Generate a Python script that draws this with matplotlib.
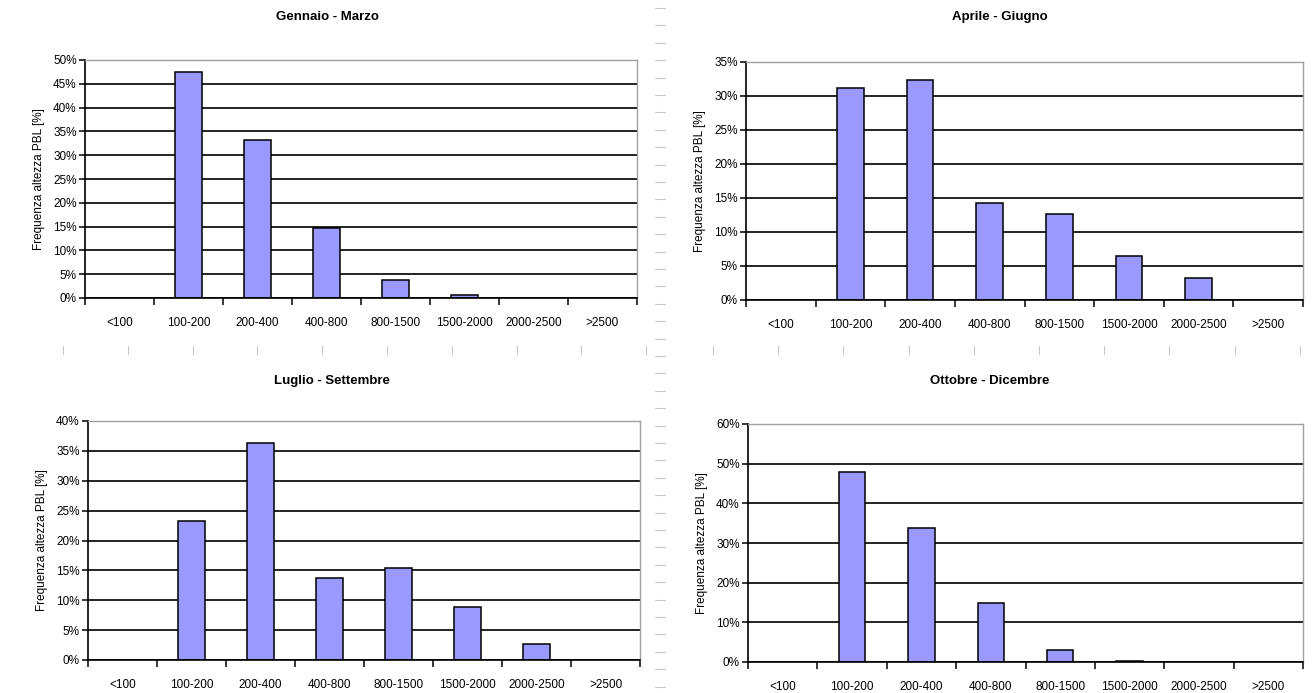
import matplotlib
matplotlib.use("Agg")
import matplotlib.pyplot as plt
from matplotlib.lines import Line2D
from matplotlib.ticker import FuncFormatter, MultipleLocator
import numpy as np

plt.rcParams['font.family'] = ['Liberation Sans', 'DejaVu Sans']

categories = ["<100", "100-200", "200-400", "400-800", "800-1500",
              "1500-2000", "2000-2500", ">2500"]

titles = ["Gennaio - Marzo", "Aprile - Giugno",
          "Luglio - Settembre", "Ottobre - Dicembre"]

gen_mar = [0.0, 47.5, 33.2, 14.8, 3.8, 0.7, 0.0, 0.0]
apr_giu = [0.0, 31.2, 32.3, 14.2, 12.7, 6.5, 3.2, 0.0]
lug_set = [0.0, 23.2, 36.4, 13.7, 15.4, 8.8, 2.7, 0.0]
ott_dic = [0.0, 47.8, 33.7, 15.0, 3.0, 0.3, 0.0, 0.0]

y_max = [50, 35, 40, 60]
y_step = [5, 5, 5, 10]

ylabel = "Frequenza altezza PBL [%]"

W, H = 1315, 693
fig = plt.figure(figsize=(W / 100, H / 100), dpi=100)
fig.patch.set_facecolor("white")

# plot areas in pixel coordinates: left, top, right, bottom
boxes = [(85, 60, 637, 298), (746, 62, 1303, 300),
         (88, 421, 640, 660), (748, 424, 1303, 662)]
title_pos = [(327, 17), (1000, 17), (332, 381), (990, 381)]

series = [gen_mar, apr_giu, lug_set, ott_dic]

# faint sheet-cell separators behind the charts
for yy in np.arange(8, H, 17.4):
    fig.add_artist(Line2D([655 / W, 665 / W], [1 - yy / H, 1 - yy / H],
                          color="#c8c8c8", lw=0.8))
for xx in list(np.arange(63, 650, 64.8)) + list(np.arange(713, 1310, 65.2)):
    fig.add_artist(Line2D([xx / W, xx / W], [1 - 346 / H, 1 - 354 / H],
                          color="#c8c8c8", lw=0.8))

x = np.arange(len(categories))
for i, (vals, box) in enumerate(zip(series, boxes)):
    l, t, r, b = box
    ax = fig.add_axes([l / W, 1 - b / H, (r - l) / W, (b - t) / H])
    edges = ["black" if v > 0 else "none" for v in vals]
    ax.bar(x, vals, width=0.38, color="#9999FF", edgecolor=edges,
           linewidth=1.1, zorder=3)
    ax.set_xlim(-0.5, len(categories) - 0.5)
    ax.set_ylim(0, y_max[i])
    ax.yaxis.set_major_locator(MultipleLocator(y_step[i]))
    ax.yaxis.set_major_formatter(FuncFormatter(lambda v, p: f"{v:.0f}%"))
    ax.yaxis.grid(True, color="#111111", linewidth=1.3, zorder=1)
    ax.set_axisbelow(True)

    ax.set_xticks(x)
    ax.set_xticklabels(categories)
    ax.set_xticks(np.arange(-0.5, len(categories)), minor=True)
    ax.tick_params(axis="x", which="major", length=0, pad=14, labelsize=8.5)
    ax.tick_params(axis="x", which="minor", length=5, width=1.1,
                   direction="out", color="black")
    ax.tick_params(axis="y", length=4, width=1.1, labelsize=8.5, pad=2)

    for s in ("top", "right"):
        ax.spines[s].set_color("#a0a0a0")
        ax.spines[s].set_linewidth(1.0)
    for s in ("left", "bottom"):
        ax.spines[s].set_color("black")
        ax.spines[s].set_linewidth(1.2)
    ax.spines["bottom"].set_zorder(4)

    ax.set_ylabel(ylabel, fontsize=8.5, labelpad=6)

    tx, ty = title_pos[i]
    fig.text(tx / W, 1 - ty / H, titles[i], ha="center", va="center",
             fontsize=9.5, fontweight="bold")

fig.savefig("out.png", dpi=100)
